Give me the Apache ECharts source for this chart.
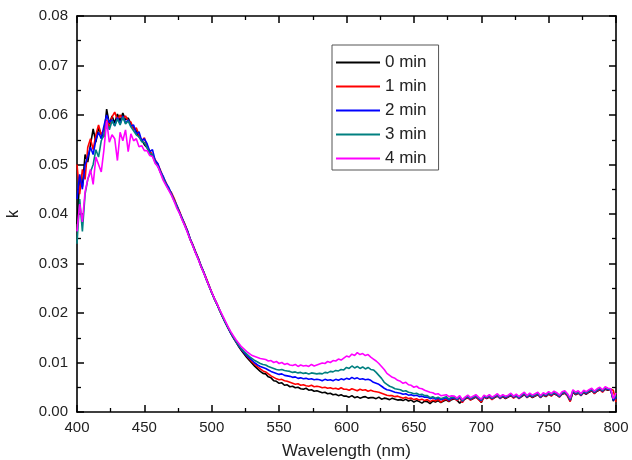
<!DOCTYPE html>
<html><head><meta charset="utf-8">
<script src="https://cdn.jsdelivr.net/npm/echarts@6/dist/echarts.min.js"></script>
<style>html,body{margin:0;padding:0;background:#fff}#c{width:632px;height:460px}</style>
</head><body><div id="c"></div>
<script>
// Sampling grid of the spectra (nm)
const wlStart = 400, wlStep = 2;
const seriesNames = ['0 min', '1 min', '2 min', '3 min', '4 min'];
const seriesColors = ['#000000', '#ff0000', '#0000ff', '#008080', '#ff00ff'];
const xTickValues = [400, 450, 500, 550, 600, 650, 700, 750, 800];
const yTickLabels = ['0.00','0.01','0.02','0.03','0.04','0.05','0.06','0.07','0.08'];

// k values ×10^4, one per 2 nm from 400 to 800 nm
const k0min = [
380,470,455,520,505,540,572,545,574,560,
556,612,582,598,584,602,588,604,590,594,
582,574,568,556,550,540,534,524,518,506,
498,484,472,460,452,440,430,416,404,390,
378,364,348,336,322,310,294,282,268,254,
241,228,217,204,192,181,170,160,150,141,
132,124,117,110,104,98,92,87,82,78,
77,71,69,63,62,58,59,54,55,51,
52,49,50,47,46,48,44,45,42,43,
41,39,40,37,38,35,36,33,35,32,
32,30,33,29,31,28,30,31,28,29,
29,27,30,26,28,27,25,28,26,24,
25,23,26,22,24,20,23,21,18,22,
21,17,22,20,23,19,22,24,21,25,
27,24,18,23,26,29,25,27,30,26,
19,31,27,30,26,29,32,28,31,27,
30,33,29,32,28,31,35,30,33,29,
32,35,30,34,31,36,33,37,34,31,
36,38,33,22,40,35,38,34,39,36,
40,43,38,42,45,41,46,44,47,22,
36];
const k1min = [
500,440,490,470,535,552,530,560,580,560,
570,590,575,596,606,590,600,592,598,588,
586,570,574,560,548,554,536,528,520,510,
500,488,474,464,450,444,432,418,406,392,
380,366,350,338,324,311,296,283,270,256,
242,229,218,205,193,182,171,161,151,142,
134,126,120,113,107,101,96,91,87,83,
81,77,73,70,67,65,66,63,62,60,
58,56,57,54,55,53,52,54,51,52,
51,49,50,48,49,47,48,46,49,46,
46,44,47,45,43,46,44,45,42,44,
42,41,40,38,36,34,33,33,31,32,
30,28,30,27,28,25,27,24,26,23,
25,21,24,22,26,20,24,26,22,27,
28,23,29,19,27,30,24,28,31,25,
20,30,28,31,25,30,33,27,32,28,
31,34,28,33,27,32,36,29,34,30,
33,36,29,35,32,37,32,38,35,30,
37,39,32,21,41,36,39,33,40,37,
41,44,37,43,46,40,47,45,46,44,
20];
const k2min = [
430,480,450,500,515,535,520,550,565,552,
578,600,585,590,578,595,582,598,584,590,
578,580,562,566,548,552,542,526,530,508,
502,486,476,462,454,442,428,418,404,392,
378,366,350,337,323,310,296,283,268,255,
241,229,217,205,193,181,171,160,151,142,
134,127,120,114,109,104,99,95,92,90,
88,85,82,80,78,76,77,74,73,72,
70,71,68,69,67,68,66,67,65,66,
65,63,66,64,65,63,66,64,67,65,
68,66,70,67,69,66,67,65,66,64,
60,58,56,52,48,45,44,42,40,39,
38,36,37,34,35,33,34,31,32,30,
30,27,29,26,28,25,27,29,24,28,
29,25,30,22,28,31,26,29,32,27,
23,31,29,32,27,31,34,28,33,29,
32,35,30,33,28,33,37,30,35,31,
34,37,30,36,33,38,34,39,36,31,
38,40,34,24,42,37,40,34,41,38,
42,45,39,44,47,42,48,46,45,24,
30];
const k3min = [
340,430,365,440,470,485,500,530,515,548,
560,585,570,588,578,592,580,596,582,588,
576,568,560,556,546,544,534,522,520,504,
496,484,472,460,450,440,428,416,402,390,
377,364,349,336,322,309,295,282,268,254,
241,228,217,204,193,181,171,161,152,143,
135,128,122,117,112,108,104,101,98,96,
95,92,90,88,86,85,86,84,83,82,
80,81,79,80,78,79,77,79,78,77,
78,77,80,79,82,81,84,83,86,85,
90,88,93,89,92,88,91,87,90,86,
85,80,74,68,60,56,52,50,47,46,
45,42,43,40,39,37,38,35,36,33,
33,29,31,28,30,27,29,31,26,30,
30,26,31,23,29,32,27,30,33,28,
24,32,30,33,28,32,35,29,34,30,
33,36,31,34,29,34,38,31,36,32,
35,38,31,37,34,39,35,40,37,32,
39,41,35,25,43,38,41,35,42,39,
43,46,40,45,48,43,49,47,46,26,
34];
const k4min = [
365,420,384,445,470,490,460,515,500,485,
530,588,545,560,552,508,565,548,570,526,
562,548,552,536,538,528,528,518,516,502,
496,482,468,458,448,438,426,412,402,388,
376,362,348,335,321,308,294,281,268,254,
242,229,218,206,195,184,173,163,154,146,
139,132,127,122,118,114,112,110,108,107,
106,103,104,100,102,98,100,96,98,95,
94,96,92,95,93,94,92,96,93,95,
97,99,98,102,100,104,103,107,105,109,
113,111,117,114,120,116,118,114,116,111,
107,103,98,92,86,78,74,70,68,64,
62,58,60,55,54,50,52,48,47,44,
42,40,39,36,37,33,34,35,31,33,
32,28,33,25,30,34,29,32,35,30,
26,34,31,35,30,33,37,31,35,32,
34,38,32,36,31,36,40,33,38,34,
37,40,33,39,36,41,37,42,39,34,
41,43,37,28,45,40,43,37,44,41,
45,48,42,47,50,45,51,48,47,27,
38];
const allK = [k0min, k1min, k2min, k3min, k4min];

const FONT = '"Liberation Sans", Arial, sans-serif';
const chart = echarts.init(document.getElementById('c'), null, {renderer: 'canvas'});

function axisBase(showLabel) {
  return {
    axisLine: {show: true, onZero: false, lineStyle: {color: '#000', width: 1.6}},
    axisTick: {show: true, inside: true, length: 7, lineStyle: {color: '#000', width: 1.5}},
    minorTick: {show: true, splitNumber: 2, length: 4, lineStyle: {color: '#000', width: 1.3}},
    splitLine: {show: false},
    minorSplitLine: {show: false},
    axisLabel: {show: showLabel, fontSize: 15, color: '#222', fontFamily: FONT}
  };
}

const xMain = Object.assign(axisBase(true), {
  type: 'value', min: xTickValues[0], max: xTickValues[xTickValues.length - 1], interval: 50,
  position: 'bottom', name: 'Wavelength (nm)', nameLocation: 'middle', nameGap: 31,
  nameTextStyle: {fontSize: 17, color: '#222', fontFamily: FONT}
});
xMain.axisLabel.margin = 8;
const xTop = Object.assign(axisBase(false), {
  type: 'value', min: 400, max: 800, interval: 50, position: 'top'
});
const yMain = Object.assign(axisBase(true), {
  type: 'value', min: 0, max: 0.08, interval: 0.01, position: 'left',
  name: 'k', nameLocation: 'middle', nameGap: 55,
  nameTextStyle: {fontSize: 16, color: '#222', fontFamily: FONT}
});
yMain.axisLabel.margin = 9;
yMain.axisLabel.formatter = function (v) { return yTickLabels[Math.round(v * 100)]; };
const yRight = Object.assign(axisBase(false), {
  type: 'value', min: 0, max: 0.08, interval: 0.01, position: 'right'
});

const series = allK.map(function (arr, s) {
  return {
    name: seriesNames[s], type: 'line', xAxisIndex: 0, yAxisIndex: 0,
    symbol: 'none', showSymbol: false, sampling: null, animation: false,
    lineStyle: {color: seriesColors[s], width: 1.6},
    itemStyle: {color: seriesColors[s]},
    data: arr.map(function (v, i) { return [wlStart + wlStep * i, v / 10000]; })
  };
});

chart.setOption({
  animation: false,
  backgroundColor: '#fff',
  grid: {left: 77, right: 16, top: 16, bottom: 48, containLabel: false, outerBoundsMode: 'none'},
  legend: {
    orient: 'vertical', left: 332, top: 45,
    data: seriesNames,
    icon: 'rect', itemWidth: 44, itemHeight: 2, itemGap: 7,
    backgroundColor: '#fff', borderColor: '#555', borderWidth: 1,
    padding: [9, 12, 3, 4],
    textStyle: {fontSize: 17, color: '#222', fontFamily: FONT, lineHeight: 16, padding: [0, 0, 0, 0]}
  },
  xAxis: [xMain, xTop],
  yAxis: [yMain, yRight],
  series: series
});
</script>
</body></html>
